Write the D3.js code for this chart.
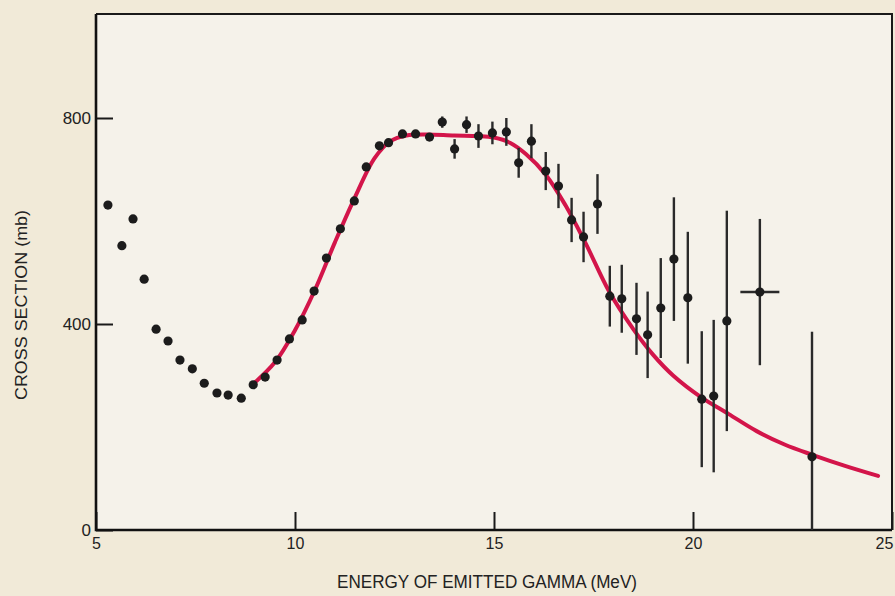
<!DOCTYPE html>
<html lang="en">
<head>
    <meta charset="UTF-8">
    <title>Cross section vs gamma energy</title>
    <script src="https://d3js.org/d3.v7.min.js"></script>
    <style>
        body { margin: 0; background: #f1ead8; }
        text { font-family: "Liberation Sans", Arial, Helvetica, sans-serif; fill: #222; }
    </style>
</head>
<body>
<svg id="chart"></svg>

<script>
    // Measured points (energy in MeV, cross section in mb, error bars)
    let energy = [5.30, 5.65, 5.93, 6.21, 6.51, 6.81, 7.11, 7.42, 7.72, 8.04, 8.32, 8.65,
        8.95, 9.25, 9.55, 9.86, 10.18, 10.48, 10.79, 11.14, 11.49, 11.79, 12.12, 12.35,
        12.70, 13.03, 13.38, 13.70, 14.01, 14.31, 14.61, 14.96, 15.31, 15.62, 15.94, 16.30,
        16.62, 16.95, 17.25, 17.60, 17.91, 18.21, 18.58, 18.86, 19.19, 19.52, 19.87, 20.22,
        20.52, 20.85, 21.68, 22.99];
    let sigma = [631, 552, 604, 487, 390, 367, 330, 313, 285, 266, 262, 256,
        282, 297, 330, 371, 408, 464, 528, 585, 639, 705, 746, 752,
        769, 769, 763, 792, 740, 787, 765, 771, 773, 713, 755, 697,
        668, 602, 569, 633, 454, 449, 410, 379, 431, 526, 451, 254,
        260, 406, 462, 142];
    let sigmaErr = [0, 0, 0, 0, 0, 0, 0, 0, 0, 0, 0, 0,
        0, 0, 0, 0, 0, 0, 0, 0, 0, 0, 0, 0,
        0, 0, 0, 11, 19, 16, 23, 22, 27, 29, 33, 37,
        43, 43, 49, 58, 59, 66, 70, 84, 97, 120, 128, 132,
        148, 214, 142, 243];
    let energyErr = [0, 0, 0, 0, 0, 0, 0, 0, 0, 0, 0, 0,
        0, 0, 0, 0, 0, 0, 0, 0, 0, 0, 0, 0,
        0, 0, 0, 0, 0, 0, 0, 0, 0, 0, 0, 0,
        0, 0, 0, 0, 0, 0, 0, 0, 0, 0, 0, 0,
        0, 0, 0.49, 0];

    // Fitted curve (red line)
    let fitEnergy = [8.9, 9.5, 10.0, 10.5, 11.0, 11.5, 12.0, 12.4, 12.8, 13.3, 14.0, 14.6,
        15.0, 15.4, 15.8, 16.3, 16.8, 17.3, 17.9, 18.5, 19.0, 19.5, 20.2, 20.9,
        21.6, 22.3, 23.0, 23.8, 24.65];
    let fitSigma = [280, 326, 388, 466, 558, 645, 722, 755, 766, 768, 766, 765,
        762, 752, 730, 690, 630, 557, 462, 390, 340, 300, 258, 225,
        192, 166, 146, 125, 105];

    let xTicks = [5, 10, 15, 20, 25];
    let yTicks = [0, 400, 800];

    let width = 895,
        height = 596,
        plotLeft = 96, plotRight = 892, plotTop = 14, plotBottom = 530;

    let svg = d3.select("#chart")
        .attr("width", width)
        .attr("height", height);

    let x = d3.scaleLinear().domain([5, 25]).range([plotLeft, plotRight]);
    let y = d3.scaleLinear().domain([0, 800]).range([plotBottom, 118]);

    // page + plot background
    svg.append("rect")
        .attr("width", width).attr("height", height)
        .attr("fill", "#f1ead8");
    svg.append("rect")
        .attr("x", plotLeft).attr("y", plotTop)
        .attr("width", plotRight - plotLeft).attr("height", plotBottom - plotTop)
        .attr("fill", "#f5f2ea");

    // axes with inward ticks
    let xAxis = svg.append("g")
        .attr("transform", "translate(0," + plotBottom + ")")
        .call(d3.axisBottom(x).tickValues(xTicks).tickSize(-18).tickPadding(8).tickFormat(d3.format("d")));
    let yAxis = svg.append("g")
        .attr("transform", "translate(" + plotLeft + ",0)")
        .call(d3.axisLeft(y).tickValues(yTicks).tickSize(-17).tickPadding(5).tickFormat(d3.format("d")));

    [xAxis, yAxis].forEach(function (a) {
        a.select(".domain").remove();
        a.selectAll(".tick line").attr("stroke", "#1a1a1a").attr("stroke-width", 2);
        a.selectAll(".tick text").attr("fill", "#222").style("font-family", "Liberation Sans, Arial, sans-serif");
    });
    xAxis.selectAll(".tick text").style("font-size", "16px");
    yAxis.selectAll(".tick text").style("font-size", "17px");
    // last label sits against the page edge
    xAxis.selectAll(".tick text").filter(function (d) { return d === 25; }).attr("dx", -8);

    // frame
    svg.append("path")
        .attr("d", "M" + plotLeft + "," + plotTop + "H" + plotRight + "V" + plotBottom)
        .attr("fill", "none").attr("stroke", "#1a1a1a").attr("stroke-width", 2);
    svg.append("path")
        .attr("d", "M" + plotLeft + "," + plotTop + "V" + plotBottom + "H" + plotRight)
        .attr("fill", "none").attr("stroke", "#111").attr("stroke-width", 2.6);

    // fitted curve
    let fit = fitEnergy.map(function (e, i) { return [e, fitSigma[i]]; });
    let line = d3.line()
        .x(function (d) { return x(d[0]); })
        .y(function (d) { return y(d[1]); })
        .curve(d3.curveCatmullRom.alpha(0.5));
    svg.append("path")
        .datum(fit)
        .attr("d", line)
        .attr("fill", "none")
        .attr("stroke", "#d3154a")
        .attr("stroke-width", 4)
        .attr("stroke-linecap", "round");

    // data points
    let points = energy.map(function (e, i) {
        return {e: e, s: sigma[i], ds: sigmaErr[i], de: energyErr[i]};
    });

    let bars = svg.append("g").attr("stroke", "#2a2a2a").attr("stroke-width", 2.4);
    bars.selectAll(".vbar")
        .data(points.filter(function (d) { return d.ds > 0; }))
        .enter().append("line")
        .attr("x1", function (d) { return x(d.e); })
        .attr("x2", function (d) { return x(d.e); })
        .attr("y1", function (d) { return y(d.s + d.ds); })
        .attr("y2", function (d) { return Math.min(y(d.s - d.ds), plotBottom); });
    bars.selectAll(".hbar")
        .data(points.filter(function (d) { return d.de > 0; }))
        .enter().append("line")
        .attr("x1", function (d) { return x(d.e - d.de); })
        .attr("x2", function (d) { return x(d.e + d.de); })
        .attr("y1", function (d) { return y(d.s); })
        .attr("y2", function (d) { return y(d.s); });

    svg.append("g").selectAll("circle")
        .data(points)
        .enter().append("circle")
        .attr("cx", function (d) { return x(d.e); })
        .attr("cy", function (d) { return y(d.s); })
        .attr("r", 4.6)
        .attr("fill", "#1c1c1c");

    // axis titles
    svg.append("text")
        .attr("x", 487).attr("y", 588)
        .attr("text-anchor", "middle")
        .attr("textLength", 300).attr("lengthAdjust", "spacingAndGlyphs")
        .style("font-size", "18px")
        .text("ENERGY OF EMITTED GAMMA (MeV)");

    svg.append("text")
        .attr("transform", "translate(27,305) rotate(-90)")
        .attr("text-anchor", "middle")
        .attr("textLength", 190).attr("lengthAdjust", "spacingAndGlyphs")
        .style("font-size", "17px")
        .text("CROSS SECTION (mb)");
</script>
</body>
</html>
